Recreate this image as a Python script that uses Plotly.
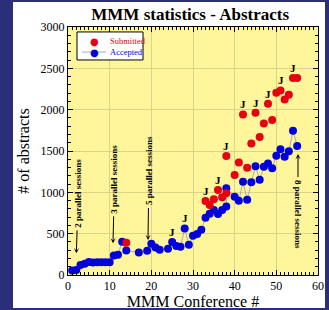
import plotly.graph_objects as go

# ---- data ----
acc_x = [1, 2, 3, 4, 5, 6, 7, 8, 9, 10, 11, 12, 13, 14, 17, 19, 20, 21, 22,
         24, 25, 26, 27, 28, 29, 30, 31, 32, 33, 34, 35, 36, 37, 38, 38,
         40, 41, 42, 43, 44, 45, 46, 47, 48, 49, 50, 51, 52, 53, 54, 55]
acc_y = [55, 60, 120, 135, 157, 150, 153, 153, 153, 155, 235, 245, 403, 295, 272, 292, 378, 332, 305,
         318, 400, 350, 343, 563, 367, 475, 495, 548, 693, 740, 786, 738, 786, 830, 1048,
         947, 898, 1128, 910, 1121, 1315, 1152, 1310, 1350, 1290, 1443, 1520, 1431, 1496, 1745, 1560]
sub_x = [14, 33, 34, 35, 36, 37, 38, 38, 40, 41, 42, 43, 44, 45, 46, 47, 48, 49, 50, 51, 52, 53, 54, 55]
sub_y = [390, 895, 846, 917, 1028, 940, 988, 1439, 1209, 1362, 1943, 1298, 1592, 1963, 1668, 1834,
         2072, 1874, 2204, 2233, 2124, 2180, 2382, 2382]

j_x = [25, 28, 33, 36, 38, 42, 45, 48, 51, 54]
j_y = [400, 563, 895, 1028, 1439, 1943, 1963, 2072, 2233, 2382]

note_text = ["2 parallel sessions", "3 parallel sessions", "5 parallel sessions", "8 parallel sessions"]
note_x = [2, 10.8, 19.2, 55.2]
note_y = [262, 383, 423, 1463]

legend_names = ["Submitted", "Accepted"]

x_ticks = [0, 10, 20, 30, 40, 50, 60]
y_ticks = [0, 500, 1000, 1500, 2000, 2500, 3000]

# ---- styling ----
SERIF = "Liberation Serif"
NAVY = "#2B2E78"
RED = "#E60012"
BLUE = "#0000DD"
LINE = "#A9A9BC"
GRID = "#DCD28A"
PLOTBG = "#FFF59A"

note_offsets = [(2, -60), (1.5, -64), (1, -69), (0, 60)]
note_angles = [-90, -90, -90, 90]

fig = go.Figure()
fig.add_trace(go.Scatter(
    x=acc_x, y=acc_y, mode="lines+markers", name=legend_names[1],
    line=dict(color=LINE, width=1),
    marker=dict(color=BLUE, size=8)))
fig.add_trace(go.Scatter(
    x=sub_x, y=sub_y, mode="markers", name=legend_names[0],
    marker=dict(color=RED, size=8)))

for jx, jy in zip(j_x, j_y):
    fig.add_annotation(x=jx, y=jy, text="<b>J</b>", showarrow=False,
                       yanchor="middle", yshift=10,
                       font=dict(family=SERIF, size=11, color="black"))

for t, nx, ny, (ax, ay), ang in zip(note_text, note_x, note_y, note_offsets, note_angles):
    fig.add_annotation(x=nx, y=ny, text="<b>%s</b>" % t, showarrow=True,
                       ax=ax, ay=ay, textangle=ang,
                       arrowhead=3, arrowsize=0.9, arrowwidth=1, arrowcolor="black",
                       standoff=0, startstandoff=1,
                       font=dict(family=SERIF, size=9, color="black"))

# ---- hand-drawn legend box (top-left inside plot) ----
leg_rows_y = [0.9435, 0.899]
leg_colors = [RED, BLUE]
for name, ry, col in zip(legend_names, leg_rows_y, leg_colors):
    fig.add_annotation(xref="paper", yref="paper", x=0.104, y=ry, text="\u25cf",
                       showarrow=False, xanchor="center", yanchor="middle",
                       font=dict(family="DejaVu Sans", size=10, color=col))
    fig.add_annotation(xref="paper", yref="paper", x=0.158, y=ry, text=name,
                       showarrow=False, xanchor="left", yanchor="middle",
                       font=dict(family=SERIF, size=8.5, color=col))

axis_common = dict(
    showline=True, linecolor="black", linewidth=1, mirror="allticks",
    ticks="inside", ticklen=5, tickcolor="black", tickwidth=1,
    showgrid=True, gridcolor=GRID, gridwidth=1, zeroline=False, automargin=False,
    tickfont=dict(family=SERIF, size=12, color="black"),
)

fig.update_xaxes(range=[0, 60], tickvals=x_ticks, ticktext=[str(v) for v in x_ticks],
                 minor=dict(dtick=1, ticks="inside", ticklen=3, tickcolor="black", showgrid=False),
                 title=dict(text="MMM Conference #", font=dict(family=SERIF, size=16, color="black"),
                            standoff=4),
                 **axis_common)
fig.update_yaxes(range=[0, 3000], tickvals=y_ticks, ticktext=[str(v) for v in y_ticks],
                 minor=dict(dtick=100, ticks="inside", ticklen=3, tickcolor="black", showgrid=False),
                 title=dict(text="# of abstracts", font=dict(family=SERIF, size=16, color="black"),
                            standoff=6),
                 **axis_common)

fig.update_layout(
    width=329, height=310,
    margin=dict(l=68, r=11, t=27, b=35, autoexpand=False),
    paper_bgcolor=NAVY,
    plot_bgcolor="rgba(0,0,0,0)",
    title=dict(text="<b>MMM statistics - Abstracts</b>", x=0.578, xref="container", xanchor="center",
               y=0.956, yref="container", yanchor="middle",
               font=dict(family=SERIF, size=17, color="black")),
    showlegend=False,
    hovermode=False,
    shapes=[
        dict(type="rect", xref="paper", yref="paper", x0=-0.22, x1=1.028, y0=-0.133, y1=1.1008,
             fillcolor="white", line=dict(width=0), layer="below"),
        dict(type="rect", xref="paper", yref="paper", x0=0, x1=1, y0=0, y1=1,
             fillcolor=PLOTBG, line=dict(width=0), layer="below"),
        # legend frame
        dict(type="rect", xref="paper", yref="paper", x0=0.036, x1=0.30, y0=0.867, y1=0.980,
             fillcolor="white", line=dict(color="black", width=1), layer="above"),
        # legend line for Accepted
        dict(type="line", xref="paper", yref="paper", x0=0.056, x1=0.152, y0=0.899, y1=0.899,
             line=dict(color=LINE, width=1), layer="above"),
    ],
)

fig.write_html("out.html", config={"displayModeBar": False, "staticPlot": True},
               post_script="document.body.style.margin='0';document.body.style.overflow='hidden';")
